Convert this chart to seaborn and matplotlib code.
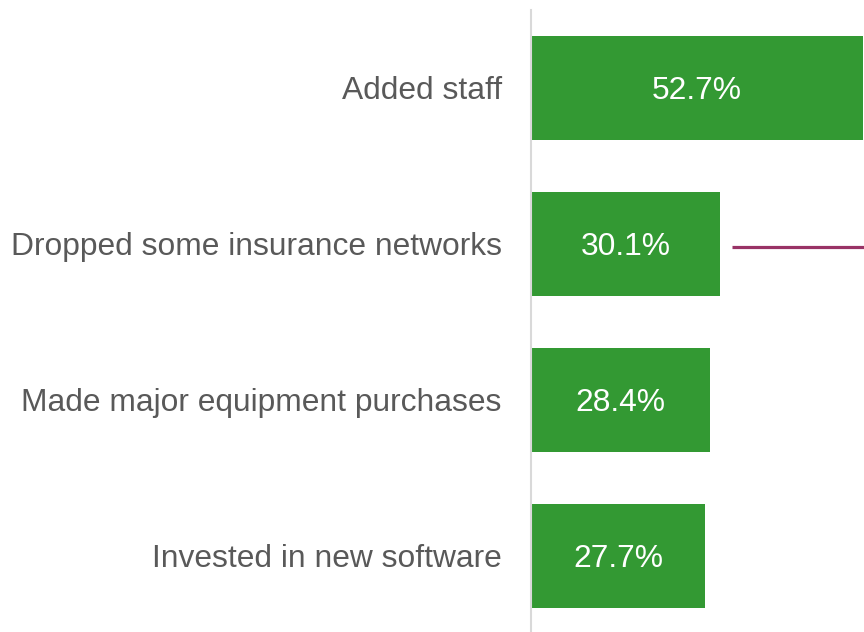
import matplotlib
matplotlib.use("Agg")
import matplotlib.pyplot as plt
import seaborn as sns
import pandas as pd

# --- data ---
categories = ["Added staff", "Dropped some insurance networks",
              "Made major equipment purchases", "Invested in new software"]
values = [52.7, 30.1, 28.4, 27.7]
value_labels = ["52.7%", "30.1%", "28.4%", "27.7%"]

BAR_COLOR = "#339933"
TEXT_COLOR = "#595959"
LINE_COLOR = "#993366"

sns.set_style("white")
plt.rcParams["font.family"] = ["Liberation Sans", "DejaVu Sans"]

df = pd.DataFrame({"category": categories, "value": values})

fig = plt.figure(figsize=(8.64, 6.32), dpi=100)
ax = fig.add_axes([531 / 864, 0.0, (864 - 531) / 864, 622 / 632])

sns.barplot(data=df, x="value", y="category", orient="h", color=BAR_COLOR,
            saturation=1, width=0.667, linewidth=0, ax=ax)

ax.set_xlim(0, 52.9)
ax.set_ylim(3.487, -0.497)

# value labels inside bars
for i, (v, lab) in enumerate(zip(values, value_labels)):
    ax.text(min(v, 52.9) / 2, i, lab, ha="center", va="center_baseline",
            color="white", fontsize=22.9)

# annotation leader line to the right of the second bar
ax.plot([values[1] + 1.9, 52.9], [1.02, 1.02], color=LINE_COLOR, lw=2.3,
        solid_capstyle="butt", clip_on=False)

ax.set_xlabel("")
ax.set_ylabel("")
ax.set_xticks([])
ax.tick_params(axis="y", length=0, pad=21, labelsize=22.9, labelcolor=TEXT_COLOR)
for side in ["top", "right", "bottom"]:
    ax.spines[side].set_visible(False)
ax.spines["left"].set_color("#d9d9d9")
ax.spines["left"].set_linewidth(1.5)

fig.savefig("out.png", dpi=100)
